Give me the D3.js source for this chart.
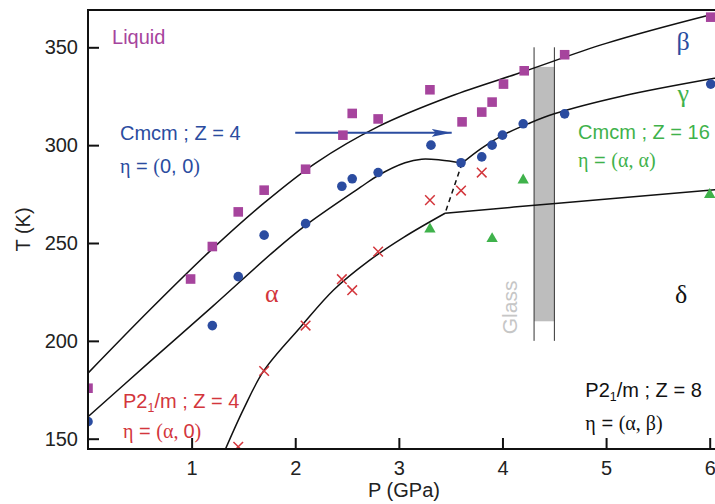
<!DOCTYPE html>
<html>
<head>
<meta charset="utf-8">
<script src="https://cdn.jsdelivr.net/npm/d3@7.9.0/dist/d3.min.js"></script>
<style>
  body { margin: 0; background: #fff; }
  svg { display: block; }
  text { font-family: "Liberation Sans", Arial, sans-serif; }
  .serif { font-family: "Liberation Serif", "DejaVu Serif", serif; }
</style>
</head>
<body>
<svg id="chart" width="715" height="504"></svg>
<script>
// --- measured points [P (GPa), T (K)]
const liquid = [[0,175.8],[0.99,231.6],[1.2,248.2],[1.45,265.9],[1.7,277],[2.1,287.7],[2.46,305.1],[2.55,316.2],
  [2.8,313.4],[3.3,328.3],[3.61,311.9],[3.8,316.9],[3.9,322],[4.01,331.2],[4.21,338],[4.6,346.2],[6.01,365.4]];
const cmcm4 = [[0,158.7],[1.2,207.8],[1.45,232.8],[1.7,254],[2.1,259.9],[2.45,279],[2.55,282.8],[2.8,286],
  [3.31,300],[3.6,291],[3.8,294],[3.9,300],[4.0,305.1],[4.2,310.9],[4.6,316],[6.01,331.2]];
const p21m4 = [[1.45,145.9],[1.7,184.6],[2.1,207.8],[2.45,231.5],[2.55,225.9],[2.8,245.6],[3.3,271.9],[3.6,276.8],[3.8,286]];
const cmcm16 = [[3.3,257.1],[3.9,252.2],[4.2,282.1],[6.0,274.7]];

// --- phase boundaries
const meltLine = [[0,183.5],[0.6,216],[1.2,247],[1.7,270.5],[2.2,291],[2.8,309.5],[3.5,325],[4.2,337.5],[5.0,352],[6.0,366.5],[6.2,369]];
const betaAlpha = [[0,161.2],[0.6,189.5],[1.2,217.5],[1.8,246],[2.1,259],[2.63,278.5],[2.8,284.5],[3.06,291],[3.22,292.8],[3.4,292.4],[3.61,290.8]];
const betaGamma = [[3.61,290.8],[3.8,298.5],[4.0,305],[4.25,311],[4.5,316],[5.15,325],[6.05,334.2],[6.2,335.5]];
const alphaDelta = [[1.28,139],[1.5,165],[1.7,185],[2.05,207],[2.37,226],[2.7,240.5],[3.05,253],[3.446,265.2]];
const gammaDelta = [[3.446,265.2],[4.51,270.2],[6.05,277.2],[6.2,277.8]];
const dashedLine = [[3.61,290.8],[3.446,265.2]];

// glass band
const glassP = [4.305, 4.501];
const glassT = [200, 350];
const glassFill = [210, 340];

// arrow
const arrowP = [2.0, 3.51];
const arrowT = 306.3;

const xTicks = [1, 2, 3, 4, 5, 6];
const yTicks = [150, 200, 250, 300, 350];

const blue = '#2b4ca0', magenta = '#a6449d', red = '#d3363c', green = '#3fb24b';

// labels: [P, T, parts, color, size]
const labels = [
  [0.232, 351.7, [['Liquid']], magenta, 20],
  [0.309, 302.8, [['Cmcm ; Z = 4']], blue, 20],
  [0.309, 285.7, [['η', 'serif'], [' = '], ['(', 'serif'], ['0, 0'], [')', 'serif']], blue, 20],
  [5.68, 348.7, [['β', 'serif']], blue, 26],
  [5.69, 322.1, [['γ', 'serif']], green, 26],
  [4.73, 303.2, [['Cmcm ; Z = 16']], green, 20],
  [4.73, 288.9, [['η', 'serif'], [' = '], ['(α, α)', 'serif']], green, 20],
  [1.708, 219.9, [['α', 'serif']], red, 26],
  [5.665, 219.4, [['δ', 'serif']], '#111', 26],
  [0.338, 165.7, [['P2'], ['1', 'sub'], ['/m ; Z = 4']], red, 20],
  [0.338, 150.4, [['η', 'serif'], [' = '], ['(α, ', 'serif'], ['0'], [')', 'serif']], red, 20],
  [4.80, 171.3, [['P2'], ['1', 'sub'], ['/m ; Z = 8']], '#111', 20],
  [4.80, 154.4, [['η', 'serif'], [' = '], ['(α, β)', 'serif']], '#111', 20],
];

const plot = { left: 88, top: 10, bottom: 449, right: 715 };

const x = d3.scaleLinear().domain([0, 6]).range([88, 709.7]);
const y = d3.scaleLinear().domain([150, 350]).range([438.7, 47.3]);

const svg = d3.select('#chart');

svg.append('defs').append('clipPath').attr('id', 'clip')
  .append('rect')
  .attr('x', plot.left).attr('y', plot.top)
  .attr('width', plot.right - plot.left).attr('height', plot.bottom - plot.top);

svg.select('defs').append('marker')
  .attr('id', 'head')
  .attr('markerUnits', 'userSpaceOnUse')
  .attr('viewBox', '0 0 20 10')
  .attr('refX', 20).attr('refY', 5)
  .attr('markerWidth', 20).attr('markerHeight', 10)
  .attr('orient', 'auto')
  .append('path').attr('d', 'M0,1 L20,5 L0,9 L4,5 Z').attr('fill', blue);

const g = svg.append('g').attr('clip-path', 'url(#clip)');

// glass band
g.append('rect')
  .attr('x', x(glassP[0])).attr('width', x(glassP[1]) - x(glassP[0]))
  .attr('y', y(glassFill[1])).attr('height', y(glassFill[0]) - y(glassFill[1]))
  .attr('fill', '#bdbdbd');
g.selectAll('.glassline').data(glassP).join('line')
  .attr('x1', d => x(d)).attr('x2', d => x(d))
  .attr('y1', y(glassT[1])).attr('y2', y(glassT[0]))
  .attr('stroke', '#333').attr('stroke-width', 1);

// boundaries
const line = d3.line().x(d => x(d[0])).y(d => y(d[1])).curve(d3.curveCatmullRom.alpha(0.5));
[meltLine, betaAlpha, betaGamma, alphaDelta, gammaDelta].forEach(pts => {
  g.append('path').attr('d', line(pts))
    .attr('fill', 'none').attr('stroke', '#111').attr('stroke-width', 1.5);
});
g.append('path').attr('d', d3.line().x(d => x(d[0])).y(d => y(d[1]))(dashedLine))
  .attr('fill', 'none').attr('stroke', '#111').attr('stroke-width', 1.5)
  .attr('stroke-dasharray', '5,4');

// arrow
g.append('line')
  .attr('x1', x(arrowP[0])).attr('x2', x(arrowP[1]))
  .attr('y1', y(arrowT)).attr('y2', y(arrowT))
  .attr('stroke', blue).attr('stroke-width', 2)
  .attr('marker-end', 'url(#head)');

// markers
g.selectAll('.sq').data(liquid).join('path')
  .attr('transform', d => `translate(${x(d[0])},${y(d[1])})`)
  .attr('d', d3.symbol(d3.symbolSquare, 92)())
  .attr('fill', magenta);

g.selectAll('.dot').data(cmcm4).join('circle')
  .attr('cx', d => x(d[0])).attr('cy', d => y(d[1])).attr('r', 4.8)
  .attr('fill', blue);

g.selectAll('.cross').data(p21m4).join('path')
  .attr('transform', d => `translate(${x(d[0])},${y(d[1])})`)
  .attr('d', 'M-4.8,-4.8L4.8,4.8M-4.8,4.8L4.8,-4.8')
  .attr('stroke', red).attr('stroke-width', 1.5).attr('fill', 'none');

g.selectAll('.tri').data(cmcm16).join('path')
  .attr('transform', d => `translate(${x(d[0])},${y(d[1])})`)
  .attr('d', d3.symbol(d3.symbolTriangle, 56)())
  .attr('fill', green);

// axes
const xAxis = svg.append('g')
  .attr('transform', `translate(0,${plot.bottom})`)
  .call(d3.axisBottom(x).tickValues(xTicks).tickFormat(d3.format('d'))
    .tickSizeInner(-11).tickSizeOuter(0).tickPadding(12));
const yAxis = svg.append('g')
  .attr('transform', `translate(${plot.left},0)`)
  .call(d3.axisLeft(y).tickValues(yTicks).tickFormat(d3.format('d'))
    .tickSizeInner(-11).tickSizeOuter(0).tickPadding(10));
[xAxis, yAxis].forEach(a => {
  a.select('.domain').remove();
  a.attr('font-family', null).attr('font-size', null);
  a.selectAll('line').attr('stroke', '#111').attr('stroke-width', 2);
  a.selectAll('text').attr('font-size', 20).attr('fill', '#222');
});

// frame
svg.append('path')
  .attr('d', `M${plot.right},${plot.top}H${plot.left}V${plot.bottom}H${plot.right}`)
  .attr('fill', 'none').attr('stroke', '#111').attr('stroke-width', 2);

// axis titles
svg.append('text')
  .attr('transform', `translate(30,${(plot.top + plot.bottom) / 2}) rotate(-90)`)
  .attr('text-anchor', 'middle').attr('font-size', 20).attr('fill', '#222')
  .text('T (K)');
svg.append('text')
  .attr('x', 404).attr('y', 497)
  .attr('text-anchor', 'middle').attr('font-size', 20).attr('fill', '#222')
  .text('P (GPa)');

// glass label
svg.append('text')
  .attr('transform', `translate(${x(4.14)},${y(217.1)}) rotate(-90)`)
  .attr('text-anchor', 'middle').attr('font-size', 21).attr('fill', '#c6c6c6')
  .text('Glass');

// phase labels
labels.forEach(([p, t, parts, color, size]) => {
  const txt = svg.append('text')
    .attr('x', x(p)).attr('y', y(t))
    .attr('font-size', size).attr('fill', color)
    .attr('xml:space', 'preserve');
  let shifted = false;
  parts.forEach(([s, cls]) => {
    const ts = txt.append('tspan').text(s);
    if (cls === 'serif') ts.attr('class', 'serif');
    if (cls === 'sub') {
      ts.attr('font-size', size * 0.62).attr('dy', 4);
      shifted = true;
    } else if (shifted) {
      ts.attr('dy', -4);
      shifted = false;
    }
  });
});
</script>
</body>
</html>
